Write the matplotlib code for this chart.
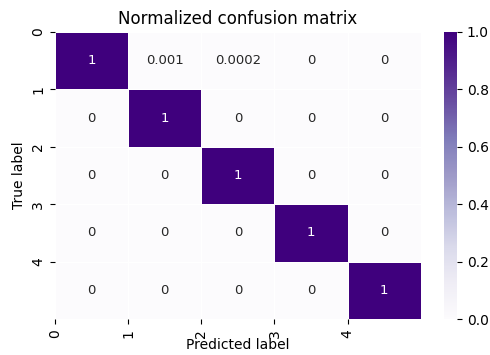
import numpy as np
import seaborn as sns
from matplotlib import pyplot as plt

# normalized confusion matrix values
labels = ['0', '1', '2', '3', '4']
row0 = [1, 0.001, 0.0002, 0, 0]
row1 = [0, 1, 0, 0, 0]
row2 = [0, 0, 1, 0, 0]
row3 = [0, 0, 0, 1, 0]
row4 = [0, 0, 0, 0, 1]
cm = np.array([row0, row1, row2, row3, row4])

fig = plt.figure(figsize=(4.9, 3.55), dpi=100)
ax = fig.add_axes([0.112, 0.101, 0.747, 0.809])
cax = fig.add_axes([0.906, 0.101, 0.027, 0.809])

sns.heatmap(cm, annot=True, fmt='g', cmap='Purples', vmin=0, vmax=1,
            ax=ax, cbar_ax=cax, linewidths=0.5, linecolor='white',
            annot_kws={'fontsize': 9.5})

# ticks sit on the cell edges, not centres
ax.set_xticks(np.arange(len(labels)))
ax.set_xticklabels(labels, rotation=90)
ax.set_yticks(np.arange(len(labels)))
ax.set_yticklabels(labels, rotation=90)
ax.tick_params(labelsize=10)
cax.tick_params(labelsize=10)

ax.set_title('Normalized confusion matrix', fontsize=12)
ax.set_xlabel('Predicted label', fontsize=10, labelpad=0)
ax.set_ylabel('True label', fontsize=10)

fig.savefig('out.png', dpi=100)
